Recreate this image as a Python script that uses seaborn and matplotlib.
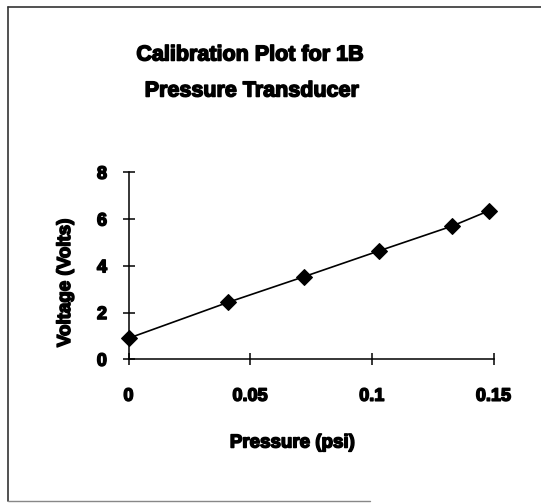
import matplotlib
matplotlib.use("Agg")
import matplotlib.pyplot as plt
from matplotlib.lines import Line2D
import matplotlib.patheffects as pe
import seaborn as sns
import pandas as pd

# Calibration readings for the 1B pressure transducer
pressure_psi = [0.0, 0.041, 0.072, 0.103, 0.133, 0.148]
voltage_volts = [0.9, 2.44, 3.53, 4.64, 5.70, 6.35]

x_ticks = [0, 0.05, 0.1, 0.15]
x_tick_labels = ["0", "0.05", "0.1", "0.15"]
y_ticks = [0, 2, 4, 6, 8]

title_lines = ["Calibration Plot for 1B", "Pressure Transducer"]
x_label = "Pressure (psi)"
y_label = "Voltage (Volts)"

df = pd.DataFrame({"pressure": pressure_psi, "voltage": voltage_volts})

sns.set_style("white")
plt.rcParams["font.family"] = ["Liberation Sans", "DejaVu Sans"]
plt.rcParams["font.weight"] = "bold"
plt.rcParams["text.color"] = "black"

# heavy strokes for a dense, blocky lettering
heavy = [pe.withStroke(linewidth=1.1, foreground="black")]

W, H = 541, 504
fig = plt.figure(figsize=(W / 100, H / 100), dpi=100)

# axes box in pixel coordinates
left, right, top, bottom = 128.5, 493.5, 172.3, 359.3
ax = fig.add_axes([left / W, 1 - bottom / H, (right - left) / W, (bottom - top) / H])

sns.lineplot(data=df, x="pressure", y="voltage", ax=ax, color="black",
             linewidth=1.2, marker="D", markersize=8, markeredgecolor="black",
             markerfacecolor="black", clip_on=False)

ax.set_xlim(0, 0.15)
ax.set_ylim(0, 8)
ax.set_xticks(x_ticks)
ax.set_xticklabels(x_tick_labels)
ax.set_yticks(y_ticks)

for side in ["top", "right"]:
    ax.spines[side].set_visible(False)
for side in ["left", "bottom"]:
    ax.spines[side].set_color("black")
    ax.spines[side].set_linewidth(1.1)

ax.tick_params(axis="both", direction="inout", length=9, width=1.1,
               colors="black", labelcolor="black", labelsize=13,
               bottom=True, left=True)
ax.tick_params(axis="x", pad=16)
ax.tick_params(axis="y", pad=11)
for lbl in ax.get_xticklabels() + ax.get_yticklabels():
    lbl.set_fontweight("bold")
    lbl.set_path_effects(heavy)

ax.set_xlabel(x_label, fontsize=13.5, fontweight="bold", color="black")
ax.set_ylabel(y_label, fontsize=13.5, fontweight="bold", color="black")
ax.xaxis.label.set_path_effects(heavy)
ax.yaxis.label.set_path_effects(heavy)
ax.xaxis.label.set_va("center")
ax.yaxis.label.set_va("center")
ax.xaxis.set_label_coords((292 - left) / (right - left), (bottom - 443) / (bottom - top))
ax.yaxis.set_label_coords((65.5 - left) / (right - left), (bottom - 283) / (bottom - top))

for text, yc, xc in [(title_lines[0], 55, 250), (title_lines[1], 91, 252)]:
    fig.text(xc / W, 1 - yc / H, text, ha="center", va="center",
             fontsize=15.5, fontweight="bold", color="black", path_effects=heavy)

# outer frame
def px_line(x0, y0, x1, y1, color="#333333", lw=1.2):
    fig.add_artist(Line2D([x0 / W, x1 / W], [1 - y0 / H, 1 - y1 / H],
                          transform=fig.transFigure, color=color, linewidth=lw))

px_line(8, 7, W, 7)
px_line(8, 7, 8, 501)
px_line(8, 501, 370, 501, color="#888888", lw=1.0)

fig.savefig("out.png", dpi=100, facecolor="white")
